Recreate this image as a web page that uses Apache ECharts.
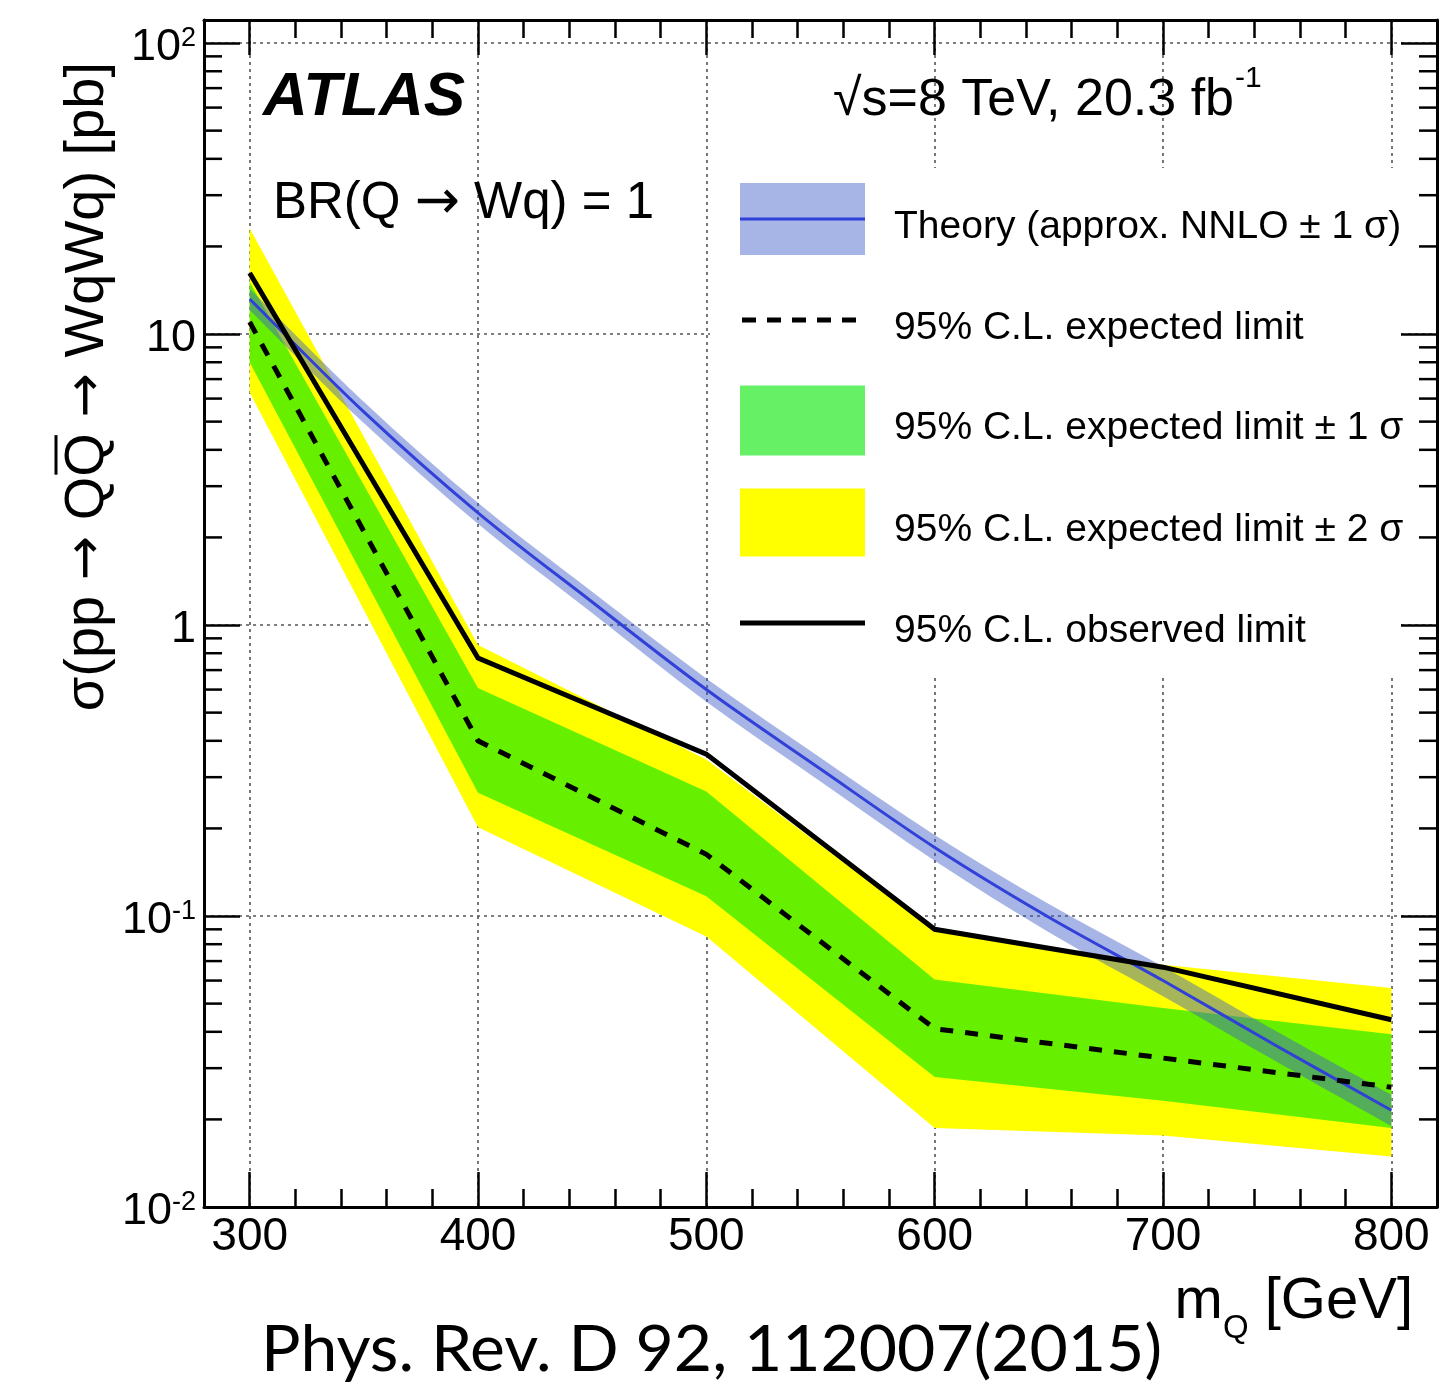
<!DOCTYPE html>
<html>
<head>
<meta charset="utf-8">
<title>Q pair production limits</title>
<script src="https://cdn.jsdelivr.net/npm/echarts@6/dist/echarts.min.js"></script>
<style>
  html, body { margin: 0; padding: 0; background: #ffffff; }
  #chart { width: 1441px; height: 1387px; }
</style>
</head>
<body>
<div id="chart"></div>
<script>
// ---------------------------------------------------------------------------
// Data
// ---------------------------------------------------------------------------
// Heavy-quark mass points of the limit scan [GeV]
const massPoints = [300, 400, 500, 600, 700, 800];

// 95% CL upper limits on sigma(pp -> QQbar -> WqWq) [pb]
const observedLimit = [16.2, 0.77, 0.36, 0.090, 0.0667, 0.044];
const expectedLimit = [11.0, 0.40, 0.163, 0.041, 0.0325, 0.0258];
const expectedPlus1 = [15.1, 0.608, 0.268, 0.0605, 0.0483, 0.0392];
const expectedMinus1 = [8.0, 0.265, 0.117, 0.028, 0.0232, 0.0187];
const expectedPlus2 = [23.1, 0.853, 0.345, 0.089, 0.068, 0.0566];
const expectedMinus2 = [6.3, 0.202, 0.085, 0.0187, 0.0176, 0.0149];

// Approx. NNLO pair-production cross section and its +-1 sigma band [pb]
const theoryMass = [300, 350, 400, 450, 500, 550, 600, 650, 700, 750, 800];
const theoryXsec = [13.2, 5.4, 2.43, 1.2, 0.60, 0.32, 0.172, 0.099, 0.060, 0.0357, 0.0215];
const theoryUp = [14.3, 5.85, 2.63, 1.30, 0.655, 0.35, 0.19, 0.110, 0.067, 0.040, 0.0243];
const theoryDown = [12.1, 4.95, 2.23, 1.10, 0.545, 0.29, 0.155, 0.088, 0.053, 0.0315, 0.019];

// Axis ranges and decade tick labels (rich-text tokens)
const xRange = [280, 820];
const yRange = [0.01, 120];
const yDecadeExponents = [-2, -1, 0, 1, 2];
const yDecadeLabels = ['{b|10}{s|-2}', '{b|10}{s|-1}', '{b|1}', '{b|10}', '{b|10}{s|2}'];

// Text
const legendLabels = [
  'Theory (approx. NNLO ± 1 σ)',
  '95% C.L. expected limit',
  '95% C.L. expected limit ± 1 σ',
  '95% C.L. expected limit ± 2 σ',
  '95% C.L. observed limit'
];

// ---------------------------------------------------------------------------
// Styling helpers
// ---------------------------------------------------------------------------
const FONT = '"Liberation Sans", Arial, Helvetica, sans-serif';
const ARROW_FONT = '"DejaVu Sans", sans-serif';
const CITE_FONT = 'Lato, "Open Sans", sans-serif';
const YELLOW = '#ffff00';
const GREEN = 'rgba(0, 230, 0, 0.6)';
const THEORY_BAND = 'rgba(60, 90, 200, 0.45)';
const THEORY_LINE = '#3040d8';
const GRID_LINE = { color: '#555555', width: 1.6, type: [3, 4] };

const measureCtx = document.createElement('canvas').getContext('2d');
function textWidth(str, size, family, weight, style) {
  measureCtx.font = (style || 'normal') + ' ' + (weight || 'normal') + ' ' + size + 'px ' + family;
  return measureCtx.measureText(str).width;
}

// Catmull-Rom spline through pixel points, emitted as cubic Bezier commands
function splineCommands(pts) {
  let d = '';
  for (let i = 0; i < pts.length - 1; i++) {
    const p0 = pts[Math.max(i - 1, 0)];
    const p1 = pts[i];
    const p2 = pts[i + 1];
    const p3 = pts[Math.min(i + 2, pts.length - 1)];
    const c1x = p1[0] + (p2[0] - p0[0]) / 6, c1y = p1[1] + (p2[1] - p0[1]) / 6;
    const c2x = p2[0] - (p3[0] - p1[0]) / 6, c2y = p2[1] - (p3[1] - p1[1]) / 6;
    d += ' C' + c1x + ',' + c1y + ' ' + c2x + ',' + c2y + ' ' + p2[0] + ',' + p2[1];
  }
  return d;
}

// Filled band between two curves, straight segments between mass points
function limitBand(name, lower, upper, fill, z) {
  return {
    type: 'custom',
    name: name,
    z: z,
    silent: true,
    animation: false,
    data: [[massPoints[0], lower[0]]],
    renderItem: function (params, api) {
      const pts = [];
      for (let i = 0; i < massPoints.length; i++) pts.push(api.coord([massPoints[i], upper[i]]));
      for (let i = massPoints.length - 1; i >= 0; i--) pts.push(api.coord([massPoints[i], lower[i]]));
      return { type: 'polygon', shape: { points: pts }, style: { fill: fill } };
    }
  };
}

// Theory curve with its uncertainty band, smoothed in pixel space
const theorySeries = {
  type: 'custom',
  name: 'Theory',
  z: 4,
  silent: true,
  animation: false,
  data: [[theoryMass[0], theoryXsec[0]]],
  renderItem: function (params, api) {
    const up = theoryMass.map((m, i) => api.coord([m, theoryUp[i]]));
    const down = theoryMass.map((m, i) => api.coord([m, theoryDown[i]])).reverse();
    const mid = theoryMass.map((m, i) => api.coord([m, theoryXsec[i]]));
    const bandPath = 'M' + up[0][0] + ',' + up[0][1] + splineCommands(up) +
      ' L' + down[0][0] + ',' + down[0][1] + splineCommands(down) + ' Z';
    const linePath = 'M' + mid[0][0] + ',' + mid[0][1] + splineCommands(mid);
    return {
      type: 'group',
      children: [
        { type: 'path', shape: { pathData: bandPath }, style: { fill: THEORY_BAND, stroke: null } },
        { type: 'path', shape: { pathData: linePath }, style: { fill: null, stroke: THEORY_LINE, lineWidth: 3 } }
      ]
    };
  }
};

// Minor ticks of the log axis (2..9 per decade) on the left and right frame
const logMinorTicks = [];
for (let e = yDecadeExponents[0]; e < yDecadeExponents[yDecadeExponents.length - 1]; e++) {
  for (let d = 2; d <= 9; d++) logMinorTicks.push(d * Math.pow(10, e));
}
const minorTickSeries = {
  type: 'custom',
  name: 'logMinorTicks',
  z: 6,
  silent: true,
  animation: false,
  data: logMinorTicks.map(v => [xRange[0], v]),
  renderItem: function (params, api) {
    const v = api.value(1);
    const l = api.coord([xRange[0], v]);
    const r = api.coord([xRange[1], v]);
    const st = { stroke: '#000', lineWidth: 2.5 };
    return {
      type: 'group',
      children: [
        { type: 'line', shape: { x1: l[0], y1: l[1], x2: l[0] + 18, y2: l[1] }, style: st },
        { type: 'line', shape: { x1: r[0] - 18, y1: r[1], x2: r[0], y2: r[1] }, style: st }
      ]
    };
  }
};

function lineSeries(name, values, style, z) {
  return {
    type: 'line',
    name: name,
    z: z,
    silent: true,
    animation: false,
    symbol: 'none',
    data: massPoints.map((m, i) => [m, values[i]]),
    lineStyle: style
  };
}

// ---------------------------------------------------------------------------
// Axes
// ---------------------------------------------------------------------------
function xAxisDef(position) {
  const bottom = position === 'bottom';
  return {
    type: 'value',
    position: position,
    min: xRange[0],
    max: xRange[1],
    splitNumber: 5,
    axisLine: { show: true, onZero: false, lineStyle: { color: '#000', width: 3 } },
    axisTick: { show: true, inside: true, length: 35, lineStyle: { color: '#000', width: 2.5 } },
    minorTick: { show: true, splitNumber: 5, length: 18, lineStyle: { color: '#000', width: 2.5 } },
    splitLine: { show: bottom, lineStyle: GRID_LINE },
    axisLabel: {
      show: bottom, margin: 7, fontSize: 46, fontFamily: FONT, color: '#000',
      showMinLabel: false, showMaxLabel: false
    }
  };
}

function yAxisDef(position) {
  const left = position === 'left';
  return {
    type: 'log',
    logBase: 10,
    position: position,
    min: yRange[0],
    max: yRange[1],
    axisLine: { show: true, onZero: false, lineStyle: { color: '#000', width: 3 } },
    axisTick: { show: true, inside: true, length: 36, lineStyle: { color: '#000', width: 2.5 } },
    splitLine: { show: left, lineStyle: GRID_LINE },
    axisLabel: {
      show: left,
      margin: 8,
      padding: [10, 0, 0, 0],
      fontSize: 45,
      fontFamily: FONT,
      color: '#000',
      showMaxLabel: false,
      formatter: function (v) {
        const lg = Math.log10(v);
        const e = Math.round(lg);
        if (Math.abs(lg - e) > 1e-6) return '';
        const idx = yDecadeExponents.indexOf(e);
        return idx < 0 ? '' : yDecadeLabels[idx];
      },
      rich: {
        b: { fontSize: 45, fontFamily: FONT, color: '#000' },
        s: { fontSize: 27, fontFamily: FONT, color: '#000', verticalAlign: 'top' }
      }
    }
  };
}

// ---------------------------------------------------------------------------
// Text and legend graphics
// ---------------------------------------------------------------------------
// y-axis title: pieces joined by arrows drawn in a font with a full-width arrow
const yTitleSize = 56, yArrowSize = 53;
const yTitleParts = ['σ(pp ', ' Q', 'Q ', ' WqWq) [pb]'];
const yTitleRich = '{t|' + yTitleParts[0] + '}{a|→}{t|' + yTitleParts[1] + yTitleParts[2] + '}{a|→}{t|' + yTitleParts[3] + '}';
const wArrowY = textWidth('→', yArrowSize, ARROW_FONT);
const yTitleW = textWidth(yTitleParts[0], yTitleSize, FONT) + 2 * wArrowY +
  textWidth(yTitleParts[1] + yTitleParts[2], yTitleSize, FONT) + textWidth(yTitleParts[3], yTitleSize, FONT);
const yTitlePre = textWidth(yTitleParts[0], yTitleSize, FONT) + wArrowY + textWidth(yTitleParts[1], yTitleSize, FONT);
const yTitleQ = textWidth('Q', yTitleSize, FONT);

const xTitleSize = 58, xSubSize = 33, xTitleRight = 1413;
const wGeV = textWidth(' [GeV]', xTitleSize, FONT);
const wSub = textWidth('Q', xSubSize, FONT);

const energyText = '√s=8 TeV, 20.3 fb';
const energySize = 52;
const energyW = textWidth(energyText, energySize, FONT);

const citeText = 'Phys. Rev. D 92, 112007(2015)';
const citeSize = 63;
const citeW = textWidth(citeText, citeSize, CITE_FONT);
const citeScale = 901 / citeW;

function txt(str, x, y, size, opts) {
  opts = opts || {};
  const style = {
    text: str, fill: '#000',
    fontSize: size, fontFamily: opts.family || FONT,
    fontWeight: opts.weight || 'normal', fontStyle: opts.style || 'normal',
    align: opts.align || 'left', verticalAlign: 'middle'
  };
  if (opts.rich) style.rich = opts.rich;
  return { type: 'text', x: x, y: y, z: 12, silent: true, scaleX: opts.scaleX || 1, style: style };
}

const legendX = 740, legendW = 125, legendTextX = 894;
const rowY = [219, 320, 420.5, 522.5, 623];
const textDy = 8;

const graphics = [
  // legend pad hides the grid behind the entries
  { type: 'rect', z: 10, silent: true, shape: { x: 710, y: 168, width: 689, height: 507 }, style: { fill: '#ffffff' } },
  // theory entry
  { type: 'rect', z: 11, silent: true, shape: { x: legendX, y: rowY[0] - 36, width: legendW, height: 72 }, style: { fill: THEORY_BAND } },
  { type: 'line', z: 11, silent: true, shape: { x1: legendX, y1: rowY[0], x2: legendX + legendW, y2: rowY[0] }, style: { stroke: THEORY_LINE, lineWidth: 3 } },
  // expected
  { type: 'line', z: 11, silent: true, shape: { x1: legendX + 2, y1: rowY[1], x2: legendX + legendW, y2: rowY[1] }, style: { stroke: '#000', lineWidth: 5, lineDash: [14, 11] } },
  // +-1 sigma
  { type: 'rect', z: 11, silent: true, shape: { x: legendX, y: rowY[2] - 35, width: legendW, height: 70 }, style: { fill: GREEN } },
  // +-2 sigma
  { type: 'rect', z: 11, silent: true, shape: { x: legendX, y: rowY[3] - 34, width: legendW, height: 68 }, style: { fill: YELLOW } },
  // observed
  { type: 'line', z: 11, silent: true, shape: { x1: legendX, y1: rowY[4], x2: legendX + legendW, y2: rowY[4] }, style: { stroke: '#000', lineWidth: 5 } }
];
legendLabels.forEach((t, i) => graphics.push(txt(t, legendTextX, rowY[i] + textDy, 39)));

graphics.push(
  txt('ATLAS', 263, 98, 62, { weight: 'bold', style: 'italic' }),
  txt(energyText, 833, 101, energySize),
  txt('-1', 833 + energyW + 1, 79, 30),
  txt('{t|BR(Q }{a|→}{t| Wq) = 1}', 273, 204, 51, {
    rich: {
      t: { fontSize: 51, fontFamily: FONT, color: '#000' },
      a: { fontSize: 54, fontFamily: ARROW_FONT, color: '#000' }
    }
  }),
  // x-axis title, m with subscript Q
  txt(' [GeV]', xTitleRight, 1302, xTitleSize, { align: 'right' }),
  txt('Q', xTitleRight - wGeV, 1329, xSubSize, { align: 'right' }),
  txt('m', xTitleRight - wGeV - wSub, 1302, xTitleSize, { align: 'right' }),
  // citation line
  txt(citeText, 261, 1351, citeSize, { family: CITE_FONT, scaleX: citeScale }),
  // rotated y-axis title with the anti-quark bar
  {
    type: 'group', x: 88, y: 62, rotation: Math.PI / 2, z: 12, silent: true,
    children: [
      {
        type: 'text', x: 0, y: 0,
        style: {
          text: yTitleRich, fill: '#000', fontSize: yTitleSize, fontFamily: FONT,
          align: 'right', verticalAlign: 'middle',
          rich: {
            t: { fontSize: yTitleSize, fontFamily: FONT, color: '#000' },
            a: { fontSize: yArrowSize, fontFamily: ARROW_FONT, color: '#000' }
          }
        }
      },
      {
        type: 'line',
        shape: { x1: -yTitleW + yTitlePre + 2, y1: -32, x2: -yTitleW + yTitlePre + yTitleQ - 2, y2: -32 },
        style: { stroke: '#000', lineWidth: 3 }
      }
    ]
  }
);

// ---------------------------------------------------------------------------
// Chart
// ---------------------------------------------------------------------------
const chart = echarts.init(document.getElementById('chart'), null, { renderer: 'canvas', width: 1441, height: 1387 });
chart.setOption({
  animation: false,
  backgroundColor: '#ffffff',
  grid: { left: 204, right: 4, top: 20, bottom: 180, containLabel: false },
  xAxis: [xAxisDef('bottom'), xAxisDef('top')],
  yAxis: [yAxisDef('left'), yAxisDef('right')],
  series: [
    limitBand('expected ±2σ', expectedMinus2, expectedPlus2, YELLOW, 2),
    limitBand('expected ±1σ', expectedMinus1, expectedPlus1, GREEN, 3),
    theorySeries,
    lineSeries('expected', expectedLimit, { color: '#000', width: 5, type: [13, 12], cap: 'butt', join: 'miter' }, 5),
    lineSeries('observed', observedLimit, { color: '#000', width: 5, join: 'miter' }, 5),
    minorTickSeries
  ],
  graphic: graphics
});
</script>
</body>
</html>
